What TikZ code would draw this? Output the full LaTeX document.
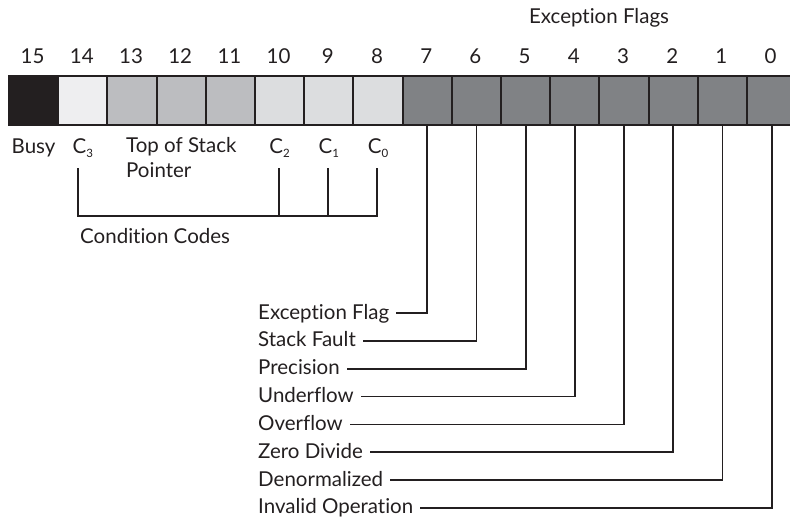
\documentclass[tikz,border=0pt]{standalone}
\usepackage{fontspec}
\setmainfont[Ligatures={NoCommon}]{Lato}
\usepackage{tikz}
\usepackage{xcolor}
\definecolor{ink}{HTML}{231F20}
\definecolor{cbusy}{HTML}{231F20}
\definecolor{clite}{HTML}{EEEEF0}
\definecolor{cmid}{HTML}{BCBDC0}
\definecolor{clight}{HTML}{DCDDDF}
\definecolor{cflag}{HTML}{808285}
\newcommand{\csub}[1]{C\raisebox{-0.45ex}{\fontsize{11.5}{11.5}\selectfont #1}}

\begin{document}
\begin{tikzpicture}[x=1pt,y=-1pt,
  every node/.style={text=ink,inner sep=0pt,font=\fontsize{20.5}{25}\selectfont},
  bitcell/.style={draw=ink,line width=2pt,minimum width=49.2pt,minimum height=49pt,anchor=north west},
  wire/.style={draw=ink,line width=1.8pt}]
  \useasboundingbox (0,0) rectangle (790,523);
  % Register cells with bit numbers
  \foreach \b/\col in {15/cbusy,14/clite,13/cmid,12/cmid,11/cmid,10/clight,9/clight,8/clight,
                       7/cflag,6/cflag,5/cflag,4/cflag,3/cflag,2/cflag,1/cflag,0/cflag} {
    \node[bitcell,fill=\col] (b\b) at ({8+(15-\b)*49.2},75) {};
    \node[anchor=base] (n\b) at ({8+(15-\b+0.5)*49.2},63) {\b};
  }
  \node[anchor=base] (exflags) at (599,23) {Exception Flags};
  % Labels under the upper byte
  \node[anchor=base] (busy) at (b15.south |- 0,153) {Busy};
  \node[anchor=base] (c3) at (b14.south |- 0,153) {\csub{3}};
  \node[anchor=base] (c2) at (b10.south |- 0,153) {\csub{2}};
  \node[anchor=base] (c1) at (b9.south |- 0,153) {\csub{1}};
  \node[anchor=base] (c0) at (b8.south |- 0,153) {\csub{0}};
  \node[anchor=north west,align=left] (tos) at (126,137) {Top of Stack\\Pointer};
  % Condition code bracket
  \draw[wire] ([shift={(-5,15)}]c3.base) |- ([shift={(-1,63)}]c0.base) -- ([shift={(-1,15)}]c0.base);
  \draw[wire] ([shift={(-1,15)}]c2.base) -- ([shift={(-1,63)}]c2.base);
  \draw[wire] ([shift={(-1,15)}]c1.base) -- ([shift={(-1,63)}]c1.base);
  \node[anchor=base west] (ccodes) at (80,243) {Condition Codes};
  % Exception flag labels
  \foreach \b/\txt in {7/Exception Flag,6/Stack Fault,5/Precision,4/Underflow,
                       3/Overflow,2/Zero Divide,1/Denormalized,0/Invalid Operation} {
    \node[anchor=base west] (f\b) at (258,{319+(7-\b)*27.85}) {\txt};
    \draw[wire] (b\b.south) |- ([shift={(7,-6)}]f\b.base east);
  }
\end{tikzpicture}
\end{document}
